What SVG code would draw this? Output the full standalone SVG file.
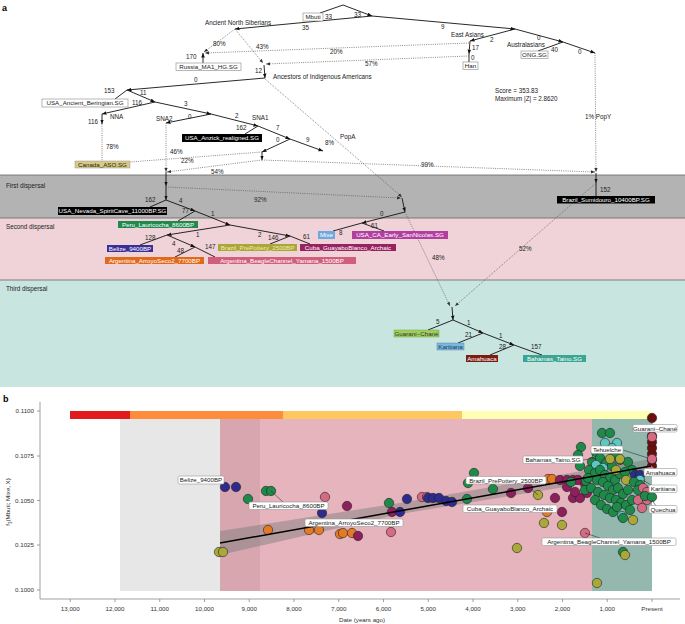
<svg xmlns="http://www.w3.org/2000/svg" width="685" height="624" viewBox="0 0 685 624">
<defs>
<marker id="ah" viewBox="0 0 10 10" refX="10" refY="5" markerWidth="4.5" markerHeight="4.5" markerUnits="userSpaceOnUse" orient="auto"><path d="M0,1 L10,5 L0,9 z" fill="#111"/></marker>
<marker id="ahd" viewBox="0 0 10 10" refX="10" refY="5" markerWidth="4" markerHeight="4" markerUnits="userSpaceOnUse" orient="auto"><path d="M0,1 L10,5 L0,9 z" fill="#333"/></marker>
</defs>
<style>
text{font-family:"Liberation Sans",Arial,sans-serif;}
.e{stroke:#111;stroke-width:0.9;fill:none}
.d{stroke:#555;stroke-width:0.7;fill:none;stroke-dasharray:1 1.2}
.n{font-size:6.3px;fill:#222}
.bl{font-size:6.2px;text-anchor:middle}
.wb{fill:#fff;stroke:#888;stroke-width:0.6}
.k{fill:#000}
.wt{fill:#fff}
.tk{font-size:6.2px;fill:#333}
.ax{stroke:#888;stroke-width:0.8;fill:none}
.pt circle{r:4.7px;stroke:#222;stroke-width:0.6}
.g{fill:#1e8a4a}.nv{fill:#2d2b8e}.m{fill:#8e1f5c}.p{fill:#d66a82}.o{fill:#e47a25}.y{fill:#a9a838}.t{fill:#5bc9c2}.r{fill:#6a0e0e}
.lb{fill:#fff;stroke:#999;stroke-width:0.6}
.ld{stroke:#333;stroke-width:0.6;fill:none}
</style>
<rect width="685" height="624" fill="#fff"/>
<!-- panel a bands -->
<rect x="0" y="175" width="685" height="43" fill="#b3b3b3"/>
<rect x="0" y="218" width="685" height="62" fill="#f0d3d9"/>
<rect x="0" y="280" width="685" height="107" fill="#c8e5df"/>
<line x1="0" y1="175" x2="685" y2="175" stroke="#666" stroke-width="0.8"/>
<line x1="0" y1="218" x2="685" y2="218" stroke="#666" stroke-width="0.8"/>
<line x1="0" y1="280" x2="685" y2="280" stroke="#666" stroke-width="0.8"/>
<text x="2" y="11" font-size="9" font-weight="bold">a</text>
<text x="6" y="188" class="n" font-size="6.5">First dispersal</text>
<text x="6" y="229" class="n" font-size="6.5">Second dispersal</text>
<text x="6" y="291" class="n" font-size="6.5">Third dispersal</text>
<text x="495" y="93" class="n">Score = 353.83</text>
<text x="495" y="101" class="n">Maximum |Z| = 2.8620</text>

<g id="connectors">
<!-- solid edges -->
<line class="e" x1="343" y1="5" x2="320" y2="13"/>
<line class="e" x1="343" y1="5" x2="372" y2="16" marker-end="url(#ah)"/>
<line class="e" x1="372" y1="16" x2="235" y2="29" marker-end="url(#ah)"/>
<line class="e" x1="372" y1="16" x2="515" y2="29" marker-end="url(#ah)"/>
<line class="e" x1="515" y1="29" x2="470" y2="41" marker-end="url(#ah)"/>
<line class="e" x1="515" y1="29" x2="563" y2="42" marker-end="url(#ah)"/>
<line class="e" x1="563" y1="42" x2="538" y2="51"/>
<line class="e" x1="563" y1="42" x2="595" y2="53" marker-end="url(#ah)"/>
<line class="e" x1="470" y1="41" x2="469" y2="54" marker-end="url(#ah)"/>
<line class="e" x1="469" y1="54" x2="469" y2="62"/>
<line class="e" x1="203" y1="63" x2="203" y2="53" marker-end="url(#ah)"/>
<line class="e" x1="264" y1="65" x2="265" y2="78" marker-end="url(#ah)"/>
<line class="e" x1="265" y1="78" x2="127" y2="90" marker-end="url(#ah)"/>
<line class="e" x1="127" y1="90" x2="115" y2="99"/>
<line class="e" x1="127" y1="90" x2="155" y2="102" marker-end="url(#ah)"/>
<line class="e" x1="155" y1="102" x2="102" y2="114" marker-end="url(#ah)"/>
<line class="e" x1="102" y1="114" x2="102" y2="124" marker-end="url(#ah)"/>
<line class="e" x1="155" y1="102" x2="211" y2="114" marker-end="url(#ah)"/>
<line class="e" x1="211" y1="114" x2="166" y2="123" marker-end="url(#ah)"/>
<line class="e" x1="211" y1="114" x2="258" y2="126" marker-end="url(#ah)"/>
<line class="e" x1="258" y1="126" x2="245" y2="134"/>
<line class="e" x1="258" y1="126" x2="290" y2="139" marker-end="url(#ah)"/>
<line class="e" x1="290" y1="139" x2="262" y2="152" marker-end="url(#ah)"/>
<line class="e" x1="290" y1="139" x2="323" y2="151" marker-end="url(#ah)"/>
<line class="e" x1="262" y1="152" x2="262" y2="160" marker-end="url(#ah)"/>
<line class="e" x1="166" y1="172" x2="166" y2="186" marker-end="url(#ah)"/>
<line class="e" x1="166" y1="186" x2="166" y2="200" marker-end="url(#ah)"/>
<line class="e" x1="166" y1="200" x2="150" y2="207"/>
<line class="e" x1="166" y1="200" x2="195" y2="211" marker-end="url(#ah)"/>
<line class="e" x1="195" y1="211" x2="178" y2="221"/>
<line class="e" x1="195" y1="211" x2="230" y2="225" marker-end="url(#ah)"/>
<line class="e" x1="230" y1="225" x2="167" y2="235" marker-end="url(#ah)"/>
<line class="e" x1="167" y1="235" x2="140" y2="245"/>
<line class="e" x1="167" y1="235" x2="195" y2="247" marker-end="url(#ah)"/>
<line class="e" x1="195" y1="247" x2="175" y2="257"/>
<line class="e" x1="195" y1="247" x2="215" y2="257"/>
<line class="e" x1="230" y1="225" x2="290" y2="236" marker-end="url(#ah)"/>
<line class="e" x1="290" y1="236" x2="270" y2="244"/>
<line class="e" x1="290" y1="236" x2="310" y2="244"/>
<line class="e" x1="402" y1="198" x2="405" y2="212" marker-end="url(#ah)"/>
<line class="e" x1="405" y1="212" x2="362" y2="223" marker-end="url(#ah)"/>
<line class="e" x1="362" y1="223" x2="333" y2="231"/>
<line class="e" x1="362" y1="223" x2="384" y2="231"/>
<line class="e" x1="596" y1="173" x2="596" y2="183" marker-end="url(#ah)"/>
<line class="e" x1="596" y1="183" x2="596" y2="196"/>
<line class="e" x1="452" y1="307" x2="453" y2="320" marker-end="url(#ah)"/>
<line class="e" x1="453" y1="320" x2="428" y2="330"/>
<line class="e" x1="453" y1="320" x2="483" y2="333" marker-end="url(#ah)"/>
<line class="e" x1="483" y1="333" x2="458" y2="343"/>
<line class="e" x1="483" y1="333" x2="514" y2="345" marker-end="url(#ah)"/>
<line class="e" x1="514" y1="345" x2="490" y2="355"/>
<line class="e" x1="514" y1="345" x2="542" y2="355"/>
<!-- dotted admixture edges -->
<line class="d" x1="235" y1="29" x2="204" y2="52" marker-end="url(#ahd)"/>
<line class="d" x1="235" y1="29" x2="263" y2="63" marker-end="url(#ahd)"/>
<line class="d" x1="469" y1="43" x2="205" y2="53" marker-end="url(#ahd)"/>
<line class="d" x1="469" y1="56" x2="266" y2="64" marker-end="url(#ahd)"/>
<line class="d" x1="102" y1="124" x2="102" y2="161"/>
<line class="d" x1="166" y1="123" x2="166" y2="172" marker-end="url(#ahd)"/>
<line class="d" x1="262" y1="152" x2="130" y2="162"/>
<line class="d" x1="262" y1="160" x2="167" y2="172" marker-end="url(#ahd)"/>
<line class="d" x1="262" y1="160" x2="595" y2="172" marker-end="url(#ahd)"/>
<line class="d" x1="595" y1="53" x2="596" y2="172" marker-end="url(#ahd)"/>
<line class="d" x1="265" y1="79" x2="402" y2="197" marker-end="url(#ahd)"/>
<line class="d" x1="166" y1="187" x2="401" y2="198" marker-end="url(#ahd)"/>
<line class="d" x1="405" y1="212" x2="450" y2="306" marker-end="url(#ahd)"/>
<line class="d" x1="596" y1="183" x2="455" y2="306" marker-end="url(#ahd)"/>
</g>

<g id="edge-labels" class="n">
<text x="325" y="19">33</text><text x="354" y="17">33</text>
<text x="302" y="30">35</text><text x="441" y="29">9</text>
<text x="490" y="42">2</text><text x="537" y="40">0</text>
<text x="551" y="52">40</text><text x="578" y="54">0</text>
<text x="472" y="50">17</text><text x="471" y="60">0</text>
<text x="186" y="59">170</text><text x="255" y="73">12</text>
<text x="194" y="82">0</text><text x="104" y="93">153</text>
<text x="140" y="95">11</text><text x="132" y="105">116</text>
<text x="88" y="124">116</text><text x="184" y="106">3</text>
<text x="188" y="119">0</text><text x="235" y="118">2</text>
<text x="236" y="130">162</text><text x="276" y="130">7</text>
<text x="276" y="142">0</text><text x="306" y="142">9</text>
<text x="145" y="202">162</text><text x="179" y="203">4</text>
<text x="182" y="213">77</text><text x="211" y="216">1</text>
<text x="196" y="237">1</text><text x="145" y="240">128</text>
<text x="172" y="246">4</text><text x="177" y="253">48</text>
<text x="205" y="249">147</text><text x="258" y="237">2</text>
<text x="268" y="240">146</text><text x="303" y="239">61</text>
<text x="380" y="216">0</text><text x="339" y="235">8</text>
<text x="371" y="228">61</text><text x="600" y="192">152</text>
<text x="436" y="324">5</text><text x="467" y="325">1</text>
<text x="465" y="337">21</text><text x="499" y="338">1</text>
<text x="499" y="349">28</text><text x="531" y="349">157</text>
<text x="213" y="46">80%</text><text x="256" y="49">43%</text>
<text x="330" y="54">20%</text><text x="365" y="66">57%</text>
<text x="106" y="149">78%</text><text x="170" y="154">46%</text>
<text x="181" y="163">22%</text><text x="211" y="174">54%</text>
<text x="421" y="167">99%</text><text x="325" y="145">8%</text>
<text x="254" y="202">92%</text><text x="432" y="260">48%</text>
<text x="519" y="251">52%</text>
</g>

<g id="plain-labels" class="n">
<text x="205" y="25">Ancient North Siberians</text>
<text x="451" y="37">East Asians</text>
<text x="507" y="47">Australasians</text>
<text x="273" y="79">Ancestors of Indigenous Americans</text>
<text x="110" y="119">NNA</text>
<text x="156" y="121">SNA2</text>
<text x="252" y="120">SNA1</text>
<text x="340" y="139">PopA</text>
<text x="585" y="119">1% PopY</text>
</g>

<g id="node-mbuti"><rect class="wb" x="303" y="13" width="20" height="8"/><text class="bl" x="313" y="19.3" fill="#222">Mbuti</text></g>
<g id="node-russia"><rect class="wb" x="176" y="63" width="65" height="7.5"/><text class="bl" x="208.5" y="69" fill="#222">Russia_MA1_HG.SG</text></g>
<g id="node-han"><rect class="wb" x="463" y="62" width="15" height="7.5"/><text class="bl" x="470.5" y="68" fill="#222">Han</text></g>
<g id="node-ong"><rect class="wb" x="521" y="51" width="27" height="7.5"/><text class="bl" x="534.5" y="57" fill="#222">ONG.SG</text></g>
<g id="node-beringian"><rect class="wb" x="42" y="99" width="86" height="8"/><text class="bl" x="85" y="105.3" fill="#222">USA_Ancient_Beringian.SG</text></g>
<g id="node-canada"><rect x="75" y="161" width="55" height="7" fill="#d9c983" stroke="#999" stroke-width="0.5"/><text class="bl" x="102.5" y="166.8" fill="#222">Canada_ASO.SG</text></g>
<g id="node-anzick"><rect class="k" x="182" y="134" width="80" height="8"/><text class="bl wt" x="222" y="140.3">USA_Anzick_realigned.SG</text></g>
<g id="node-nevada"><rect class="k" x="58" y="207" width="109" height="8"/><text class="bl wt" x="112.5" y="213.3">USA_Nevada_SpiritCave_11000BP.SG</text></g>
<g id="node-sumidouro"><rect class="k" x="557" y="196" width="98" height="7.5"/><text class="bl wt" x="606" y="202">Brazil_Sumidouro_10400BP.SG</text></g>
<g id="node-peru"><rect x="118" y="221" width="80" height="7" fill="#1f8a4c"/><text class="bl wt" x="158" y="226.8">Peru_Lauricocha_8600BP</text></g>
<g id="node-belize"><rect x="107" y="245" width="46" height="7" fill="#3b2f97"/><text class="bl wt" x="130" y="250.8">Belize_9400BP</text></g>
<g id="node-arroyo"><rect x="105" y="257" width="99" height="7" fill="#e06a1a"/><text class="bl wt" x="154.5" y="262.8">Argentina_ArroyoSeco2_7700BP</text></g>
<g id="node-beagle"><rect x="208" y="257" width="148" height="7" fill="#cf5f7c"/><text class="bl wt" x="282" y="262.8">Argentina_BeagleChannel_Yamana_1500BP</text></g>
<g id="node-prepottery"><rect x="218" y="244" width="79" height="7" fill="#a9a63c"/><text class="bl" x="257.5" y="249.8" fill="#f3eea0">Brazil_PrePottery_2500BP</text></g>
<g id="node-cuba"><rect x="300" y="244" width="96" height="7" fill="#98215f"/><text class="bl wt" x="348" y="249.8">Cuba_GuayaboBlanco_Archaic</text></g>
<g id="node-mixe"><rect x="318" y="231" width="17" height="8" fill="#6fa8dc"/><text class="bl wt" x="326.5" y="237.3">Mixe</text></g>
<g id="node-usaca"><rect x="352" y="231" width="96" height="8" fill="#b03fa0"/><text class="bl wt" x="400" y="237.3">USA_CA_Early_SanNicolas.SG</text></g>
<g id="node-guarani"><rect x="394" y="330" width="45" height="7" fill="#9fd05c" stroke="#6a9a3a" stroke-width="0.4"/><text class="bl" x="416.5" y="335.8" fill="#333">Guaraní–Chané</text></g>
<g id="node-karitiana"><rect x="437" y="343" width="27" height="7" fill="#7bb8e0" stroke="#4a7aa0" stroke-width="0.4"/><text class="bl" x="450.5" y="348.8" fill="#1a3a5a">Karitiana</text></g>
<g id="node-amahuaca"><rect x="466" y="355" width="32" height="7" fill="#7a1c10"/><text class="bl wt" x="482" y="360.8">Amahuaca</text></g>
<g id="node-bahamas"><rect x="523" y="355" width="63" height="7" fill="#3aa592"/><text class="bl wt" x="554.5" y="360.8">Bahamas_Taino.SG</text></g>

<!-- panel b -->
<g id="panel-b">
<text x="3" y="402" font-size="9" font-weight="bold">b</text>
<rect x="120" y="419" width="100" height="172" fill="#e7e7e7"/>
<rect x="220" y="419" width="40" height="172" fill="#d8a6af"/>
<rect x="260" y="419" width="332" height="172" fill="#e6b4bd"/>
<rect x="592" y="419" width="60" height="172" fill="#95b8ae"/>
<rect x="70" y="411" width="60" height="8" fill="#e31a1c"/>
<rect x="130" y="411" width="153" height="8" fill="#fd8d3c"/>
<rect x="283" y="411" width="179" height="8" fill="#fec860"/>
<rect x="462" y="411" width="190" height="8" fill="#ffffb4"/>
<line class="ax" x1="40" y1="402" x2="40" y2="599"/>
<line class="ax" x1="40" y1="599" x2="680" y2="599"/>
<g class="tk" text-anchor="end">
<text x="34" y="413">0.1100</text><text x="34" y="458">0.1075</text><text x="34" y="502.5">0.1050</text><text x="34" y="547">0.1025</text><text x="34" y="592">0.1000</text>
</g>
<path class="ax" d="M37,411H40M37,456H40M37,500.5H40M37,545H40M37,590H40"/>
<path class="ax" d="M70.25,599v3M115,599v3M159.75,599v3M204.5,599v3M249.25,599v3M294,599v3M338.75,599v3M383.5,599v3M428.25,599v3M473,599v3M517.75,599v3M562.5,599v3M607.25,599v3M652,599v3"/>
<g class="tk" text-anchor="middle">
<text x="70.25" y="611">13,000</text><text x="115" y="611">12,000</text><text x="159.75" y="611">11,000</text><text x="204.5" y="611">10,000</text><text x="249.25" y="611">9,000</text><text x="294" y="611">8,000</text><text x="338.75" y="611">7,000</text><text x="383.5" y="611">6,000</text><text x="428.25" y="611">5,000</text><text x="473" y="611">4,000</text><text x="517.75" y="611">3,000</text><text x="562.5" y="611">2,000</text><text x="607.25" y="611">1,000</text><text x="652" y="611">Present</text>
</g>
<text x="362" y="622" class="tk" text-anchor="middle">Date (years ago)</text>
<text class="tk" text-anchor="middle" transform="translate(10,502) rotate(-90)">f<tspan font-size="4.5" dy="1.5">3</tspan><tspan dy="-1.5">(Mbuti; Mixe, X)</tspan></text>
<polygon points="220,531 400,503 651,459 651,473 400,514 220,555" fill="#777" fill-opacity="0.45"/>

<g class="pt">
<circle class="y" cx="219" cy="552"/><circle class="y" cx="223" cy="552"/>
<circle class="nv" cx="225" cy="487"/><circle class="nv" cx="236" cy="487"/>
<circle class="g" cx="248" cy="499"/><circle class="g" cx="266" cy="491"/><circle class="g" cx="271" cy="491"/>
<circle class="o" cx="268" cy="530"/><circle class="o" cx="309" cy="530"/><circle class="o" cx="319" cy="530"/>
<circle class="p" cx="325" cy="497"/><circle class="nv" cx="322" cy="513"/>
<circle class="o" cx="340" cy="534"/><circle class="o" cx="343" cy="533"/><circle class="o" cx="352" cy="533"/><circle class="m" cx="358" cy="536"/>
<circle class="m" cx="347" cy="506"/>
<circle class="g" cx="389" cy="503"/><circle class="m" cx="392" cy="512"/><circle class="nv" cx="400" cy="512"/><circle class="p" cx="391" cy="532"/>
<circle class="nv" cx="407" cy="499"/><circle class="p" cx="422" cy="497"/><circle class="p" cx="427" cy="497"/>
<circle class="nv" cx="428" cy="498"/><circle class="nv" cx="433" cy="498"/><circle class="nv" cx="439" cy="498"/><circle class="nv" cx="446" cy="501"/><circle class="nv" cx="452" cy="502"/>
<circle class="g" cx="467" cy="499"/><circle class="g" cx="468" cy="483"/><circle class="g" cx="474" cy="473"/><circle class="g" cx="493" cy="489"/>
<circle class="m" cx="511" cy="493"/><circle class="m" cx="528" cy="488"/><circle class="y" cx="538" cy="495"/>
<circle class="o" cx="548" cy="479"/><circle class="o" cx="552" cy="479"/>
<circle class="m" cx="560" cy="480"/><circle class="m" cx="567" cy="480"/><circle class="m" cx="573" cy="480"/><circle class="m" cx="578" cy="480"/>
<circle class="m" cx="555" cy="498"/><circle class="m" cx="567" cy="487"/><circle class="m" cx="573" cy="498"/><circle class="m" cx="580" cy="498"/><circle class="m" cx="575" cy="492"/><circle class="m" cx="587" cy="493"/><circle class="m" cx="585" cy="484"/>
<circle class="o" cx="547" cy="512"/><circle class="m" cx="562" cy="512"/>
<circle class="y" cx="544" cy="523"/><circle class="y" cx="562" cy="525"/><circle class="p" cx="585" cy="533"/>
<circle class="y" cx="517" cy="548"/><circle class="y" cx="597" cy="583"/>
<circle class="g" cx="602" cy="433"/><circle class="g" cx="610" cy="433"/>
<circle class="t" cx="605" cy="443"/><circle class="t" cx="617" cy="443"/><circle class="t" cx="612" cy="448"/>
<circle class="g" cx="581" cy="447"/><circle class="g" cx="578" cy="455"/><circle class="t" cx="597" cy="455"/><circle class="g" cx="596" cy="452"/><circle class="g" cx="614" cy="455"/>
<circle class="g" cx="592" cy="462"/><circle class="g" cx="600" cy="458"/><circle class="g" cx="606" cy="463"/><circle class="g" cx="612" cy="466"/><circle class="g" cx="620" cy="460"/><circle class="g" cx="628" cy="462"/><circle class="g" cx="632" cy="470"/>
<circle class="y" cx="610" cy="459"/><circle class="y" cx="620" cy="459"/>
<circle class="g" cx="580" cy="466"/><circle class="t" cx="596" cy="465"/><circle class="t" cx="603" cy="468"/>
<circle class="g" cx="589" cy="470"/><circle class="g" cx="595" cy="473"/><circle class="g" cx="600" cy="470"/><circle class="g" cx="605" cy="475"/><circle class="g" cx="610" cy="478"/><circle class="g" cx="615" cy="480"/><circle class="g" cx="620" cy="474"/><circle class="g" cx="625" cy="472"/>
<circle class="y" cx="616" cy="470"/><circle class="y" cx="626" cy="480"/>
<circle class="g" cx="571" cy="482"/><circle class="g" cx="586" cy="481"/><circle class="g" cx="588" cy="478"/>
<circle class="g" cx="597" cy="480"/><circle class="g" cx="603" cy="482"/><circle class="g" cx="608" cy="486"/><circle class="g" cx="613" cy="490"/><circle class="g" cx="618" cy="488"/><circle class="g" cx="623" cy="494"/><circle class="g" cx="628" cy="490"/>
<circle class="g" cx="585" cy="490"/><circle class="g" cx="591" cy="488"/><circle class="g" cx="598" cy="492"/><circle class="g" cx="604" cy="495"/><circle class="g" cx="610" cy="498"/><circle class="g" cx="616" cy="500"/><circle class="g" cx="621" cy="503"/>
<circle class="g" cx="595" cy="500"/><circle class="g" cx="601" cy="505"/><circle class="g" cx="607" cy="509"/><circle class="g" cx="613" cy="512"/><circle class="g" cx="626" cy="505"/><circle class="g" cx="632" cy="500"/>
<circle class="nv" cx="635" cy="475"/><circle class="nv" cx="640" cy="475"/><circle class="t" cx="640" cy="480"/>
<circle class="g" cx="634" cy="482"/><circle class="g" cx="640" cy="485"/><circle class="g" cx="638" cy="490"/>
<circle class="p" cx="643" cy="488"/><circle class="p" cx="647" cy="492"/><circle class="p" cx="647" cy="500"/><circle class="p" cx="638" cy="500"/><circle class="p" cx="642" cy="508"/>
<circle class="g" cx="645" cy="496"/><circle class="g" cx="652" cy="497"/>
<circle class="g" cx="617" cy="507"/><circle class="t" cx="622" cy="516"/><circle class="g" cx="623" cy="518"/><circle class="g" cx="630" cy="510"/><circle class="y" cx="633" cy="520"/>
<circle class="g" cx="623" cy="552"/><circle class="y" cx="625" cy="555"/>
<circle class="r" cx="652" cy="466"/><circle class="r" cx="652" cy="460"/><circle class="r" cx="652" cy="454"/><circle class="r" cx="652" cy="448"/><circle class="r" cx="652" cy="442"/><circle class="r" cx="652" cy="436"/>
<circle class="p" cx="652" cy="459"/><circle class="p" cx="652" cy="437"/><circle class="p" cx="650" cy="470"/>
<circle class="r" cx="652" cy="418"/>
</g>
<line x1="220" y1="543" x2="651" y2="466" stroke="#000" stroke-width="1.5"/>

<g id="plot-labels">
<line class="ld" x1="271" y1="491" x2="283" y2="502"/>
<line class="ld" x1="538" y1="495" x2="525" y2="483"/>
<line class="ld" x1="547" y1="512" x2="540" y2="509"/>
<line class="ld" x1="585" y1="533" x2="600" y2="538"/>
<line class="ld" x1="583" y1="460" x2="596" y2="458"/>
<line class="ld" x1="623" y1="450" x2="648" y2="458"/>
<line class="ld" x1="652" y1="420" x2="652" y2="425"/>
<line class="ld" x1="652" y1="466" x2="656" y2="469"/>
<line class="ld" x1="643" y1="480" x2="651" y2="485"/>
<line class="ld" x1="652" y1="500" x2="656" y2="506"/>
<rect class="lb" x="178" y="476" width="46" height="8" rx="1.5"/><text class="bl" x="201" y="482.3" fill="#222">Belize_9400BP</text>
<rect class="lb" x="249" y="502" width="79" height="7.5" rx="1.5"/><text class="bl" x="288.5" y="508" fill="#222">Peru_Lauricocha_8600BP</text>
<rect class="lb" x="305" y="519" width="98" height="7.5" rx="1.5"/><text class="bl" x="354" y="525" fill="#222">Argentina_ArroyoSeco2_7700BP</text>
<rect class="lb" x="466" y="476.5" width="80" height="7.5" rx="1.5"/><text class="bl" x="506" y="482.5" fill="#222">Brazil_PrePottery_2500BP</text>
<rect class="lb" x="463" y="505" width="94" height="7.5" rx="1.5"/><text class="bl" x="510" y="511" fill="#222">Cuba_GuayaboBlanco_Archaic</text>
<rect class="lb" x="542" y="538" width="134" height="7.5" rx="1.5"/><text class="bl" x="609" y="544" fill="#222">Argentina_BeagleChannel_Yamana_1500BP</text>
<rect class="lb" x="523" y="456" width="60" height="7.5" rx="1.5"/><text class="bl" x="553" y="462" fill="#222">Bahamas_Taino.SG</text>
<rect class="lb" x="591" y="446" width="32" height="7.5" rx="1.5"/><text class="bl" x="607" y="452" fill="#222">Tehuelche</text>
<rect class="lb" x="633" y="424.5" width="44" height="7.5" rx="1.5"/><text class="bl" x="655" y="430.5" fill="#222">Guaraní–Chané</text>
<rect class="lb" x="644" y="468.5" width="33" height="7.5" rx="1.5"/><text class="bl" x="660.5" y="474.5" fill="#222">Amahuaca</text>
<rect class="lb" x="649" y="485" width="28" height="7.5" rx="1.5"/><text class="bl" x="663" y="491" fill="#222">Karitiana</text>
<rect class="lb" x="649" y="505.5" width="28" height="7.5" rx="1.5"/><text class="bl" x="663" y="511.5" fill="#222">Quechua</text>
</g>
</g>
</svg>
